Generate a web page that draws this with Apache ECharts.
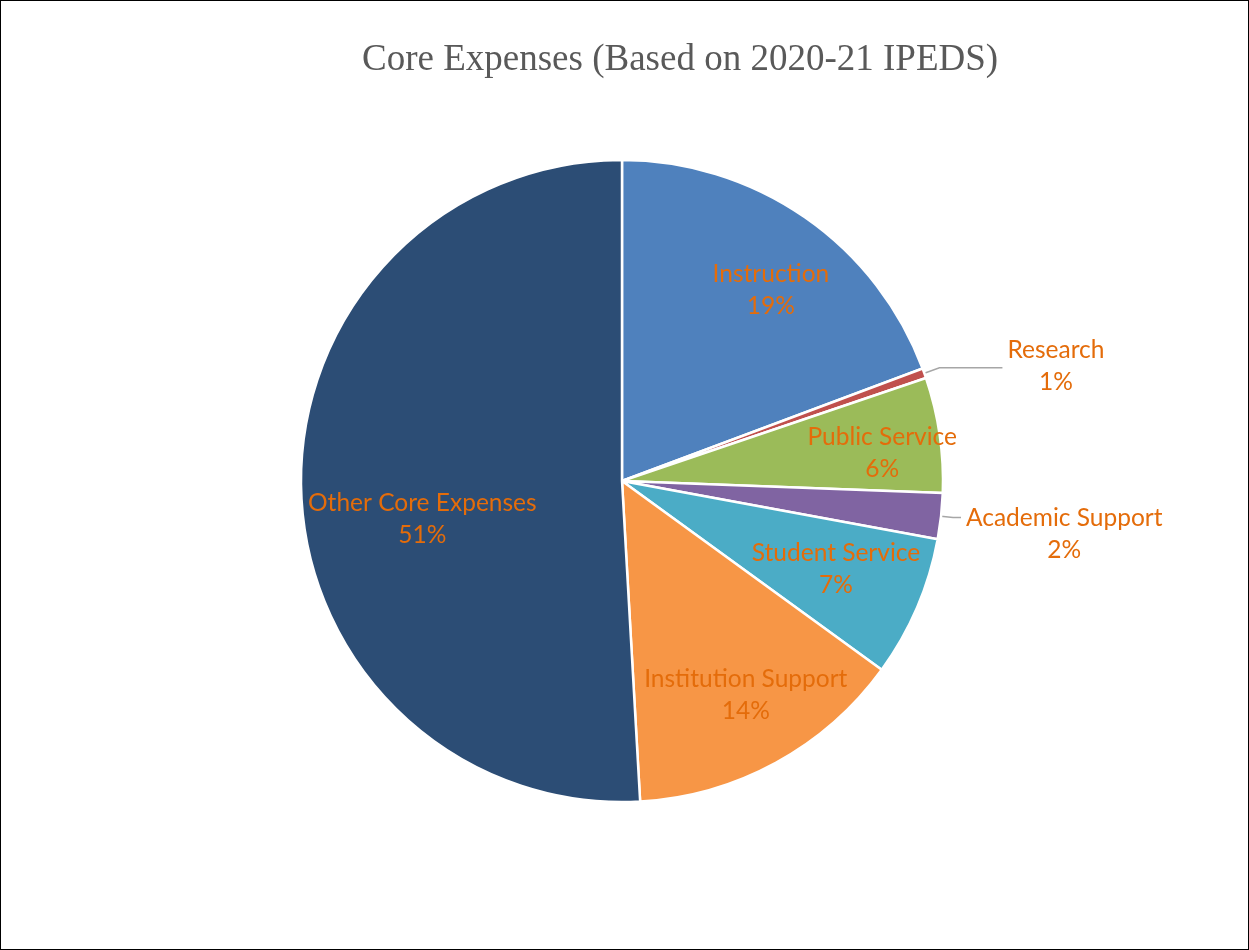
<!DOCTYPE html>
<html><head><meta charset="utf-8">
<script src="https://cdn.jsdelivr.net/npm/echarts@6/dist/echarts.min.js"></script>
<style>
html,body{margin:0;padding:0;background:#fff;}
#c{position:absolute;left:0;top:0;width:1247px;height:948px;border:1px solid #000;}
</style></head><body><div id="c"></div>
<script>
const titleText = 'Core Expenses (Based on 2020-21 IPEDS)';
const categories = ['Instruction', 'Research', 'Public Service', 'Academic Support', 'Student Service', 'Institution Support', 'Other Core Expenses'];
const values = [19.3, 0.5, 5.8, 2.3, 7.1, 14.1, 50.9];

const colors = ['#4F81BD', '#C0504D', '#9BBB59', '#8064A2', '#4BACC6', '#F79646', '#2C4D75'];
const outsideNames = ['Research', 'Academic Support'];
const insideOffsets = {
  'Instruction': [10, 9], 'Public Service': [19, 7], 'Student Service': [-10, -8],
  'Institution Support': [7, 0], 'Other Core Expenses': [44, 31]
};
const outsideLines = { 'Research': [16, 63], 'Academic Support': [12, 8] };
const outsideShiftY = { 'Academic Support': 17, 'Research': -2 };
const labelColor = '#E46C0A';
const labelFont = 'Lato, "Open Sans", sans-serif';
const CX = 621, CY = 480, R = 321;

const rich = { t: { align: 'center', color: labelColor, fontSize: 24.5, fontFamily: labelFont, lineHeight: 32 } };
const fmt = p => `{t|${p.name}}\n{t|${Math.round(p.percent)}%}`;

const mainData = categories.map((n, i) => {
  const item = { name: n, value: values[i], itemStyle: { color: colors[i] } };
  if (outsideNames.includes(n)) {
    item.label = { show: true, position: 'outside' };
    item.labelLine = { show: true, length: outsideLines[n][0], length2: outsideLines[n][1] };
  } else {
    item.label = { show: false };
    item.labelLine = { show: false };
  }
  return item;
});
const overlayData = categories.map((n, i) => {
  const item = { name: n, value: values[i] };
  if (outsideNames.includes(n)) item.label = { show: false };
  else if (insideOffsets[n]) item.label = { offset: insideOffsets[n] };
  return item;
});

const chart = echarts.init(document.getElementById('c'), null, { renderer: 'canvas' });
chart.setOption({
  backgroundColor: '#fff',
  animation: false,
  title: {
    text: titleText, left: 356, top: 36,
    textStyle: { fontFamily: '"Liberation Serif", "Times New Roman", serif', fontSize: 37, fontWeight: 'normal', color: '#595959' }
  },
  series: [
    {
      type: 'pie', center: [CX, CY], radius: [0, R], startAngle: 90, clockwise: true,
      avoidLabelOverlap: false,
      itemStyle: { borderColor: '#fff', borderWidth: 2.5 },
      label: { formatter: fmt, rich: rich, distanceToLabelLine: 5 },
      labelLine: { lineStyle: { color: '#A6A6A6', width: 1.5 }, smooth: false },
      labelLayout: p => {
        const s = outsideShiftY[categories[p.dataIndex]];
        return s ? { dy: s } : {};
      },
      emphasis: { disabled: true },
      data: mainData
    },
    {
      type: 'pie', center: [CX, CY], radius: [R / 2, R], startAngle: 90, clockwise: true,
      silent: true, avoidLabelOverlap: false,
      itemStyle: { color: 'rgba(0,0,0,0)', borderWidth: 0 },
      label: { show: true, position: 'inside', formatter: fmt, rich: rich },
      labelLine: { show: false },
      emphasis: { disabled: true },
      data: overlayData
    }
  ]
});
</script></body></html>
